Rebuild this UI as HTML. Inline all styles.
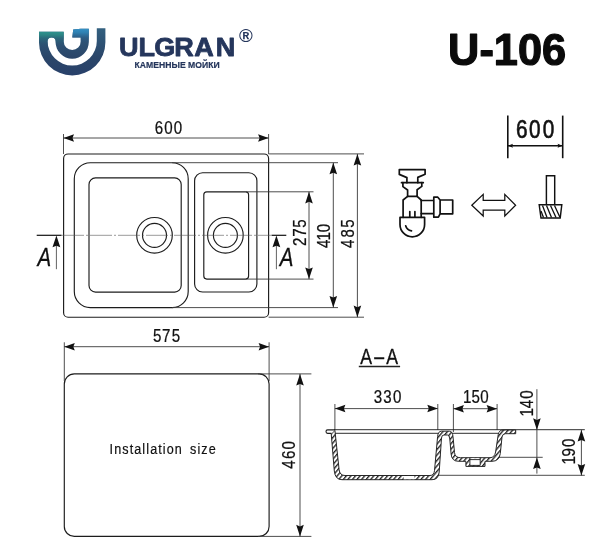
<!DOCTYPE html>
<html><head><meta charset="utf-8"><title>ULGRAN U-106</title>
<style>
html,body{margin:0;padding:0;background:#fff;overflow:hidden;}
svg{display:block;font-family:"Liberation Sans","DejaVu Sans",sans-serif;will-change:transform;}
</style></head>
<body>
<svg width="611" height="550" viewBox="0 0 611 550">
<rect width="611" height="550" fill="#ffffff"/>
<defs><linearGradient id="lg" x1="0" y1="28" x2="0" y2="77" gradientUnits="userSpaceOnUse"><stop offset="0" stop-color="#33607f"/><stop offset="0.3" stop-color="#2e5274"/><stop offset="0.6" stop-color="#2b4669"/><stop offset="1" stop-color="#28406a"/></linearGradient><linearGradient id="lgT" x1="0" y1="31" x2="0" y2="47" gradientUnits="userSpaceOnUse"><stop offset="0" stop-color="#2f9590"/><stop offset="0.25" stop-color="#2c8584"/><stop offset="0.45" stop-color="#2b6b7c" stop-opacity="0.9"/><stop offset="1" stop-color="#2b5070" stop-opacity="0"/></linearGradient><linearGradient id="lgB" x1="0" y1="28" x2="0" y2="44" gradientUnits="userSpaceOnUse"><stop offset="0" stop-color="#3593c8"/><stop offset="0.3" stop-color="#2f7fb0"/><stop offset="0.6" stop-color="#2c5f8a" stop-opacity="0.8"/><stop offset="1" stop-color="#2b4d72" stop-opacity="0"/></linearGradient><clipPath id="lc"><path d="M105.40 28.2 L105.40 42.2 A33.2 33.2 0 0 1 39.00 42.2 L39.00 31.7 L63.70 31.7 L63.70 41.5 A8.5 8.5 0 0 0 80.70 41.5 L80.70 37.4 L72.3 37.4 L73.2 29.6 L80.70 28.8 L88.80 28.8 L88.80 42.1 A16.6 16.6 0 0 1 55.60 42.1 L55.60 41.60 A4.00 4.00 0 0 0 47.60 41.60 L47.60 40.9 A24.6 24.6 0 0 0 96.80 40.9 L96.80 28.2 Z"/></clipPath></defs>
<g clip-path="url(#lc)"><rect x="38" y="27" width="69" height="51" fill="url(#lg)"/><rect x="38" y="30" width="29" height="18" fill="url(#lgT)"/><rect x="70" y="27" width="20" height="18" fill="url(#lgB)"/></g>
<text transform="scale(1.04 1)" x="114.33 133.13 148.24 167.56 186.88 207.40" y="56.0" font-size="26" font-weight="bold" font-style="normal" fill="#25365c" stroke="#25365c" stroke-width="0.8" stroke-linejoin="round">ULGRAN</text>
<text transform="translate(134.6 67.5)" font-size="9.4" text-anchor="start" font-weight="bold" font-style="normal" fill="#25365c" stroke="#25365c" stroke-width="0.2" stroke-linejoin="round" textLength="85" lengthAdjust="spacingAndGlyphs">КАМЕННЫЕ МОЙКИ</text>
<text transform="translate(239.1 41.95)" font-size="18.7" text-anchor="start" font-weight="bold" font-style="normal" fill="#25365c" >®</text>
<text transform="translate(448.1 65.0) scale(0.985 1)" font-size="44" text-anchor="start" font-weight="bold" font-style="normal" fill="#0a0a0a" stroke="#0a0a0a" stroke-width="1.2" stroke-linejoin="round" >U-106</text>
<rect x="63.6" y="153.95" width="205.00" height="163.30" rx="4.5" ry="4.5" fill="none" stroke="#1c1c1c" stroke-width="1.15"/>
<rect x="74.3" y="162.7" width="113.90" height="144.90" rx="16" ry="16" fill="none" stroke="#1c1c1c" stroke-width="1.15"/>
<rect x="89.0" y="177.9" width="92.20" height="114.20" rx="6.5" ry="6.5" fill="none" stroke="#1c1c1c" stroke-width="1.15"/>
<rect x="194.6" y="172.7" width="62.30" height="119.30" rx="8" ry="8" fill="none" stroke="#1c1c1c" stroke-width="1.15"/>
<rect x="203.8" y="191.8" width="44.80" height="87.30" rx="3" ry="3" fill="none" stroke="#1c1c1c" stroke-width="1.15"/>
<circle cx="154.5" cy="235.3" r="17.8" fill="none" stroke="#1c1c1c" stroke-width="1.15"/>
<circle cx="154.5" cy="235.3" r="12.0" fill="none" stroke="#1c1c1c" stroke-width="1.15"/>
<circle cx="225.4" cy="235.3" r="17.8" fill="none" stroke="#1c1c1c" stroke-width="1.15"/>
<circle cx="225.4" cy="235.3" r="12.0" fill="none" stroke="#1c1c1c" stroke-width="1.15"/>
<line x1="62" y1="235.3" x2="271" y2="235.3" stroke="#555" stroke-width="0.6" stroke-dasharray="22 2 2 2"/>
<line x1="36.7" y1="235.3" x2="61.6" y2="235.3" stroke="#111" stroke-width="1.2" />
<line x1="271.5" y1="235.3" x2="286.3" y2="235.3" stroke="#111" stroke-width="1.2" />
<line x1="56.4" y1="240" x2="56.4" y2="269.2" stroke="#3a3a3a" stroke-width="0.8" />
<line x1="276.4" y1="240" x2="276.4" y2="269.2" stroke="#3a3a3a" stroke-width="0.8" />
<path d="M0 0 L-11.7 3.9 L-10.06 0 L-11.7 -3.9 Z" fill="#111" transform="translate(56.4 235.6) rotate(-90)"/>
<path d="M0 0 L-11.7 3.9 L-10.06 0 L-11.7 -3.9 Z" fill="#111" transform="translate(276.4 235.6) rotate(-90)"/>
<text transform="translate(44.4 266.2) scale(0.8 1)" font-size="25.6" text-anchor="middle" font-weight="normal" font-style="italic" fill="#111" stroke="#111" stroke-width="0.3" stroke-linejoin="round" >A</text>
<text transform="translate(286.5 266.2) scale(0.8 1)" font-size="25.6" text-anchor="middle" font-weight="normal" font-style="italic" fill="#111" stroke="#111" stroke-width="0.3" stroke-linejoin="round" >A</text>
<line x1="63.5" y1="134" x2="63.5" y2="154" stroke="#3a3a3a" stroke-width="0.9" />
<line x1="268.6" y1="134" x2="268.6" y2="154" stroke="#3a3a3a" stroke-width="0.9" />
<line x1="63.5" y1="138" x2="268.6" y2="138" stroke="#3a3a3a" stroke-width="0.9" />
<path d="M0 0 L-10.5 3.75 L-9.03 0 L-10.5 -3.75 Z" fill="#111" transform="translate(63.5 138) rotate(180)"/>
<path d="M0 0 L-10.5 3.75 L-9.03 0 L-10.5 -3.75 Z" fill="#111" transform="translate(268.6 138) rotate(0)"/>
<text transform="scale(0.83 1)" x="186.50 197.95 209.34" y="133.8" font-size="18.2" font-weight="normal" font-style="normal" fill="#111" stroke="#111" stroke-width="0.25" stroke-linejoin="round">600</text>
<line x1="268.6" y1="153.9" x2="364" y2="153.9" stroke="#3a3a3a" stroke-width="0.9" />
<line x1="172" y1="162.7" x2="338" y2="162.7" stroke="#3a3a3a" stroke-width="0.9" />
<line x1="246" y1="191.8" x2="313.5" y2="191.8" stroke="#3a3a3a" stroke-width="0.9" />
<line x1="246" y1="279.1" x2="313.5" y2="279.1" stroke="#3a3a3a" stroke-width="0.9" />
<line x1="172" y1="307.6" x2="338" y2="307.6" stroke="#3a3a3a" stroke-width="0.9" />
<line x1="268.6" y1="317.2" x2="364" y2="317.2" stroke="#3a3a3a" stroke-width="0.9" />
<line x1="309.0" y1="191.8" x2="309.0" y2="279.1" stroke="#3a3a3a" stroke-width="0.9" />
<path d="M0 0 L-11.6 3.8 L-9.98 0 L-11.6 -3.8 Z" fill="#111" transform="translate(309.0 191.8) rotate(-90)"/>
<path d="M0 0 L-11.6 3.8 L-9.98 0 L-11.6 -3.8 Z" fill="#111" transform="translate(309.0 279.1) rotate(90)"/>
<line x1="333.3" y1="162.7" x2="333.3" y2="307.6" stroke="#3a3a3a" stroke-width="0.9" />
<path d="M0 0 L-11.6 3.8 L-9.98 0 L-11.6 -3.8 Z" fill="#111" transform="translate(333.3 162.7) rotate(-90)"/>
<path d="M0 0 L-11.6 3.8 L-9.98 0 L-11.6 -3.8 Z" fill="#111" transform="translate(333.3 307.6) rotate(90)"/>
<line x1="357.4" y1="153.9" x2="357.4" y2="317.2" stroke="#3a3a3a" stroke-width="0.9" />
<path d="M0 0 L-11.6 3.8 L-9.98 0 L-11.6 -3.8 Z" fill="#111" transform="translate(357.4 153.9) rotate(-90)"/>
<path d="M0 0 L-11.6 3.8 L-9.98 0 L-11.6 -3.8 Z" fill="#111" transform="translate(357.4 317.2) rotate(90)"/>
<text transform="translate(306.0 0) rotate(-90) scale(0.83 1)" x="-296.39 -285.31 -274.44" y="0" font-size="18.2" font-weight="normal" font-style="normal" fill="#111" stroke="#111" stroke-width="0.25" stroke-linejoin="round">275</text>
<text transform="translate(330.0 0) rotate(-90) scale(0.83 1)" x="-298.86 -289.77 -279.76" y="0" font-size="18.2" font-weight="normal" font-style="normal" fill="#111" stroke="#111" stroke-width="0.25" stroke-linejoin="round">410</text>
<text transform="translate(354.3 0) rotate(-90) scale(0.83 1)" x="-298.86 -286.15 -274.44" y="0" font-size="18.2" font-weight="normal" font-style="normal" fill="#111" stroke="#111" stroke-width="0.25" stroke-linejoin="round">485</text>
<path d="M406.9 182.7 V177.6 L399.3 174.4 V169.6 H425.1 V174.2 L417.8 177.4 V182.7" fill="none" stroke="#111" stroke-width="1.7" stroke-linejoin="round" stroke-linecap="round"/>
<path d="M401.5 182.7 H423.3" fill="none" stroke="#111" stroke-width="1.7" stroke-linejoin="round" stroke-linecap="round"/>
<path d="M402.9 182.7 V186.6 L407.6 190 V196.4 H417.1 V189.7 L421.8 186.4 V182.7" fill="none" stroke="#111" stroke-width="1.7" stroke-linejoin="round" stroke-linecap="round"/>
<path d="M407.6 196.4 L403.1 200 V217.3 M417.1 196.4 L421.2 200 V217.3" fill="none" stroke="#111" stroke-width="1.7" stroke-linejoin="round" stroke-linecap="round"/>
<path d="M400 217.4 H424.6 V224.5 A12.3 12.3 0 0 1 400 224.5 Z" fill="none" stroke="#111" stroke-width="1.7" stroke-linejoin="round" stroke-linecap="round"/>
<path d="M421.2 200.5 H433.8 M421.2 213.6 H433.8 M433.8 197.2 H437.8 L440.1 200 V213.8 L438.4 217.2 H433.8 Z M440.1 200 H452.7 V213.8 H440.1" fill="none" stroke="#111" stroke-width="1.7" stroke-linejoin="round" stroke-linecap="round"/>
<path d="M409.8 211.5 V217.2 M414.9 211.5 V217.2" fill="none" stroke="#111" stroke-width="1.7" stroke-linejoin="round" stroke-linecap="round"/>
<path d="M405.7 225.8 Q406.8 230 411.5 230.9" fill="none" stroke="#111" stroke-width="1.7" stroke-linejoin="round" stroke-linecap="round"/>
<path d="M471.8 205.2 L483.2 194.4 V200.3 H504.8 V194.4 L515.6 205.2 L504.8 216 V210.1 H483.2 V216 Z" fill="none" stroke="#111" stroke-width="1.25" stroke-linejoin="miter"/>
<path d="M546.4 204.8 V175.7 H554.7 V204.8" fill="none" stroke="#111" stroke-width="1.45"/>
<path d="M539.2 204.8 H561.8 L560.2 218 H541 Z" fill="none" stroke="#111" stroke-width="1.45" stroke-linejoin="miter"/>
<path d="M542.5 205.5 L547 217.5 M546.5 205.5 L551.5 217.5 M550.5 205.5 L556 217.5 M554.5 205.5 L559.8 217 M541 211 L543.5 217.5" fill="none" stroke="#111" stroke-width="1.3"/>
<line x1="507.8" y1="115.6" x2="507.8" y2="158.2" stroke="#111" stroke-width="1.6" />
<line x1="562.7" y1="115.6" x2="562.7" y2="158.2" stroke="#111" stroke-width="1.6" />
<line x1="507.7" y1="145.7" x2="562.8" y2="145.7" stroke="#111" stroke-width="1.4" />
<path d="M0 0 L-5 2.0 L-4.30 0 L-5 -2.0 Z" fill="#111" transform="translate(507.9 145.7) rotate(180)"/>
<path d="M0 0 L-5 2.0 L-4.30 0 L-5 -2.0 Z" fill="#111" transform="translate(562.6 145.7) rotate(0)"/>
<text transform="scale(0.78 1)" x="661.55 678.24 695.81" y="137.7" font-size="26.6" font-weight="normal" font-style="normal" fill="#111" stroke="#111" stroke-width="0.65" stroke-linejoin="round">600</text>
<rect x="64.3" y="373.9" width="204.80" height="162.50" rx="10" ry="10" fill="none" stroke="#1c1c1c" stroke-width="1.15"/>
<line x1="64.3" y1="342.3" x2="64.3" y2="381" stroke="#3a3a3a" stroke-width="0.9" />
<line x1="269.1" y1="342.3" x2="269.1" y2="381" stroke="#3a3a3a" stroke-width="0.9" />
<line x1="64.3" y1="346.7" x2="269.1" y2="346.7" stroke="#3a3a3a" stroke-width="0.9" />
<path d="M0 0 L-10.5 3.75 L-9.03 0 L-10.5 -3.75 Z" fill="#111" transform="translate(64.3 346.7) rotate(180)"/>
<path d="M0 0 L-10.5 3.75 L-9.03 0 L-10.5 -3.75 Z" fill="#111" transform="translate(269.1 346.7) rotate(0)"/>
<text transform="scale(0.83 1)" x="184.35 195.05 206.88" y="342.0" font-size="18.2" font-weight="normal" font-style="normal" fill="#111" stroke="#111" stroke-width="0.25" stroke-linejoin="round">575</text>
<line x1="258" y1="373.9" x2="311.4" y2="373.9" stroke="#3a3a3a" stroke-width="0.9" />
<line x1="258" y1="536.4" x2="311.4" y2="536.4" stroke="#3a3a3a" stroke-width="0.9" />
<line x1="300.0" y1="373.9" x2="300.0" y2="536.4" stroke="#3a3a3a" stroke-width="0.9" />
<path d="M0 0 L-11.6 3.8 L-9.98 0 L-11.6 -3.8 Z" fill="#111" transform="translate(300.0 373.9) rotate(-90)"/>
<path d="M0 0 L-11.6 3.8 L-9.98 0 L-11.6 -3.8 Z" fill="#111" transform="translate(300.0 536.4) rotate(90)"/>
<text transform="translate(295.0 0) rotate(-90) scale(0.83 1)" x="-564.64 -552.95 -541.57" y="0" font-size="18.2" font-weight="normal" font-style="normal" fill="#111" stroke="#111" stroke-width="0.25" stroke-linejoin="round">460</text>
<text transform="scale(0.88 1)" y="454.1" font-size="14.3" letter-spacing="1.25" fill="#111" stroke="#111" stroke-width="0.2"><tspan x="124.55">Installation</tspan> <tspan x="216.02">size</tspan></text>
<text transform="scale(0.79 1)" x="456.07 473.65 488.99" y="363.9" font-size="22.4" font-weight="normal" font-style="normal" fill="#111" stroke="#111" stroke-width="0.35" stroke-linejoin="round">A–A</text>
<line x1="358.8" y1="366.6" x2="400.1" y2="366.6" stroke="#222" stroke-width="1.5" />
<line x1="334.9" y1="404" x2="334.9" y2="430" stroke="#3a3a3a" stroke-width="0.9" />
<line x1="437.8" y1="404" x2="437.8" y2="430" stroke="#3a3a3a" stroke-width="0.9" />
<line x1="334.9" y1="408.6" x2="437.8" y2="408.6" stroke="#3a3a3a" stroke-width="0.9" />
<path d="M0 0 L-10.5 3.75 L-9.03 0 L-10.5 -3.75 Z" fill="#111" transform="translate(334.9 408.6) rotate(180)"/>
<path d="M0 0 L-10.5 3.75 L-9.03 0 L-10.5 -3.75 Z" fill="#111" transform="translate(437.8 408.6) rotate(0)"/>
<text transform="scale(0.83 1)" x="450.29 461.86 473.37" y="402.7" font-size="18.2" font-weight="normal" font-style="normal" fill="#111" stroke="#111" stroke-width="0.25" stroke-linejoin="round">330</text>
<line x1="453.4" y1="404" x2="453.4" y2="432" stroke="#3a3a3a" stroke-width="0.9" />
<line x1="497.1" y1="404" x2="497.1" y2="430" stroke="#3a3a3a" stroke-width="0.9" />
<line x1="453.4" y1="408.7" x2="497.1" y2="408.7" stroke="#3a3a3a" stroke-width="0.9" />
<path d="M0 0 L-10.5 3.75 L-9.03 0 L-10.5 -3.75 Z" fill="#111" transform="translate(453.4 408.7) rotate(180)"/>
<path d="M0 0 L-10.5 3.75 L-9.03 0 L-10.5 -3.75 Z" fill="#111" transform="translate(497.1 408.7) rotate(0)"/>
<text transform="scale(0.83 1)" x="557.82 567.97 578.73" y="402.7" font-size="18.2" font-weight="normal" font-style="normal" fill="#111" stroke="#111" stroke-width="0.25" stroke-linejoin="round">150</text>
<line x1="334" y1="429.7" x2="584.8" y2="429.7" stroke="#222" stroke-width="0.95" />
<line x1="334" y1="433.3" x2="498" y2="433.3" stroke="#222" stroke-width="0.95" />
<line x1="497" y1="457.3" x2="542.7" y2="457.3" stroke="#3a3a3a" stroke-width="0.9" />
<line x1="436" y1="475.3" x2="584.8" y2="475.3" stroke="#3a3a3a" stroke-width="0.9" />
<line x1="536.9" y1="389.2" x2="536.9" y2="473.6" stroke="#3a3a3a" stroke-width="0.9" />
<path d="M0 0 L-11.6 3.8 L-9.98 0 L-11.6 -3.8 Z" fill="#111" transform="translate(536.9 429.9) rotate(90)"/>
<path d="M0 0 L-11.6 3.8 L-9.98 0 L-11.6 -3.8 Z" fill="#111" transform="translate(536.9 457.4) rotate(-90)"/>
<text transform="translate(533.2 0) rotate(-90) scale(0.83 1)" x="-501.70 -491.99 -480.42" y="0" font-size="18.2" font-weight="normal" font-style="normal" fill="#111" stroke="#111" stroke-width="0.25" stroke-linejoin="round">140</text>
<line x1="581.4" y1="429.9" x2="581.4" y2="475.5" stroke="#3a3a3a" stroke-width="0.9" />
<path d="M0 0 L-11.6 3.8 L-9.98 0 L-11.6 -3.8 Z" fill="#111" transform="translate(581.4 429.9) rotate(-90)"/>
<path d="M0 0 L-11.6 3.8 L-9.98 0 L-11.6 -3.8 Z" fill="#111" transform="translate(581.4 475.5) rotate(90)"/>
<text transform="translate(574.5 0) rotate(-90) scale(0.83 1)" x="-559.77 -549.94 -538.49" y="0" font-size="18.2" font-weight="normal" font-style="normal" fill="#111" stroke="#111" stroke-width="0.25" stroke-linejoin="round">190</text>
<defs><pattern id="h" width="3.5" height="3.5" patternUnits="userSpaceOnUse" patternTransform="rotate(40)"><rect width="3.5" height="3.5" fill="#fff"/><rect width="1.35" height="3.5" fill="#222"/></pattern></defs>
<path d="M334.9 430.2 L339.1 469.6 Q339.8 475.5 345 475.5 L430 475.5 Q434.1 475.5 434.5 470.5 L437.6 436.5 Q438 431.2 441.6 431.2 L449.3 431.2 Q452.6 431.2 453 436.5 L454.5 452.5 Q455 457.7 460.5 457.7 L490 457.7 Q494.6 457.7 495.6 452 L498.2 434.8 Q498.9 430 503 430 L515.7 430 L515.7 433.7 L505.6 433.7 Q502.4 433.7 502 437 L500.3 453.5 Q499.3 461.3 492 461.3 L485 461.3 L485 466.4 L465.9 466.4 L465.9 461.3 L458.5 461.3 Q451.7 461.3 451.1 454 L449.8 439 Q449.5 435 447.5 435 L443.9 435 Q441.7 435 441.5 438 L439.2 472 Q438.6 479.7 432 479.7 L342 479.7 Q335.2 479.7 334.3 471 L331.2 433.4 L331.2 431.5 Z" fill="url(#h)" stroke="#1c1c1c" stroke-width="0.95" stroke-linejoin="round"/>
<rect x="403.6" y="476" width="10.8" height="3.2" fill="#fff"/>
<rect x="469.9" y="458.2" width="10.3" height="7.2" fill="#fff"/>
<path d="M469.9 457.7 V465.4 H480.2 V457.7 M469.9 459.6 H480.2" fill="none" stroke="#1c1c1c" stroke-width="0.9"/>
<path d="M334.9 429.9 H327.6 Q326 429.9 326 431.6 Q326 433.4 327.6 433.4 H331.5" fill="#fff" stroke="#1c1c1c" stroke-width="1.1"/>
</svg>
</body></html>
